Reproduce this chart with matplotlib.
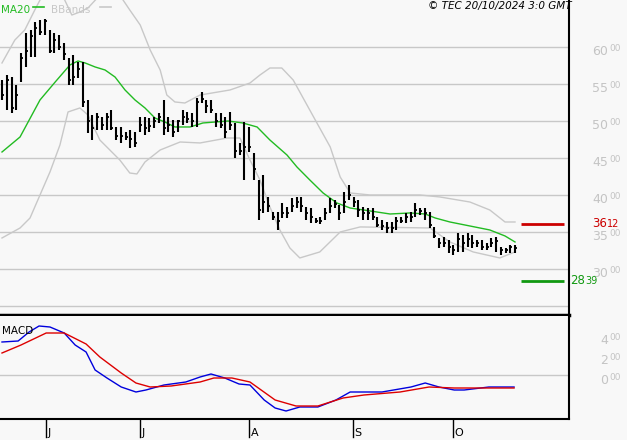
import matplotlib
matplotlib.use("Agg")
import matplotlib.pyplot as plt
import matplotlib.transforms as mtransforms

W, H = 627, 440
highs = [55.54,56.21,55.94,54.86,59.19,61.89,62.30,63.38,63.65,63.78,62.30,61.89,61.62,60.54,58.51,58.92,57.97,57.97,52.84,50.81,
         51.08,50.54,51.08,51.48,49.19,49.19,48.51,48.78,48.51,50.54,50.54,50.40,50.54,51.08,52.84,50.54,50.13,50.13,51.48,51.22,
         51.08,53.11,53.92,52.84,52.84,51.08,51.08,50.54,51.22,49.73,47.03,49.86,49.19,45.67,42.03,42.70,39.73,37.70,37.70,38.92,
         38.38,39.59,39.73,39.73,38.38,38.24,36.89,37.03,38.24,39.59,39.32,38.65,40.40,41.35,39.73,39.32,38.38,38.24,38.24,37.03,
         36.62,36.35,36.35,37.03,37.03,37.57,37.70,38.92,38.24,38.24,37.70,35.67,34.19,34.32,33.92,33.24,34.86,34.59,34.86,34.59,
         33.92,33.92,33.51,34.19,34.32,32.97,32.84,33.24,33.24]
lows = [52.84,51.48,51.08,51.48,55.27,57.30,58.65,58.65,61.62,61.62,59.19,59.19,59.59,58.24,54.86,54.86,55.81,51.89,48.38,47.43,
        48.78,48.78,48.78,48.78,47.43,47.03,47.43,46.35,46.49,48.51,48.11,48.51,49.05,49.73,48.11,48.51,47.84,48.51,49.46,49.73,
        49.19,49.19,52.43,51.08,51.08,49.19,49.05,47.70,48.78,45.00,45.40,42.03,45.81,42.03,36.62,37.57,37.70,36.62,35.27,36.89,
        36.89,37.70,38.24,37.70,36.62,36.22,36.22,36.08,36.62,37.57,38.24,36.62,37.57,39.32,38.38,37.03,36.62,36.62,36.62,35.67,
        35.27,34.86,34.86,35.27,36.22,36.22,36.35,37.03,37.30,36.62,35.54,34.19,32.84,32.97,32.16,31.89,32.30,32.30,32.97,32.84,
        32.97,32.57,32.57,32.97,32.30,31.89,32.16,32.16,32.16]
closes = [53.5,55.5,51.8,53.5,58.5,59.5,61.5,62.5,62.0,63.5,59.5,61.0,60.0,59.0,55.5,56.0,57.0,52.5,50.0,49.0,
          50.5,49.5,50.5,49.0,48.0,48.0,47.8,47.5,47.0,49.5,49.0,49.3,50.0,50.5,49.0,49.5,48.5,50.0,50.5,50.3,
          50.0,52.5,53.0,52.0,51.5,50.0,49.5,48.5,49.5,46.0,46.0,46.5,46.5,43.5,38.0,39.0,38.5,37.0,36.5,37.5,
          37.5,38.5,39.0,38.5,37.5,37.0,36.5,36.5,37.5,38.5,38.8,37.5,39.0,40.0,39.0,38.0,37.5,37.5,37.0,36.0,
          35.8,35.5,35.5,36.5,36.5,37.0,37.0,38.0,37.8,37.5,36.0,34.5,33.5,33.5,33.0,32.5,34.0,33.5,34.0,33.5,
          33.5,33.0,33.0,33.5,33.8,32.5,32.5,33.0,32.8]

ma_idx = [0,3.8,8.0,11.2,14.3,16.0,17.5,19.6,21.7,23.8,25.9,28.0,30.1,32.2,34.3,36.4,39.6,42.3,47.6,50.7,53.7,56.4,60.0,62.1,64.8,67.6,70.5,73.3,77.5,81.7,85.9,89.1,91.2,94.3,98.5,102.7,105.9,108.0]
ma_val = [45.81,47.84,52.84,55.27,57.57,58.11,57.84,57.30,56.89,55.94,54.19,52.84,51.76,50.40,49.86,49.19,49.19,49.73,50.0,49.73,49.19,47.43,45.40,43.78,42.03,40.27,38.92,38.24,37.84,37.43,37.57,37.43,36.89,36.35,35.81,35.27,34.46,33.65]
up_idx = [0,2.7,4.8,6.9,9.1,12.2,14.7,16.4,18.1,20.6,24.8,26.9,29.1,31.2,33.3,34.7,36.4,38.5,41.7,48.0,52.2,54.3,56.4,58.9,61.3,66.3,69.1,71.2,73.3,77.5,88.0,92.2,98.5,102.7,105.9,108.0]
up_val = [57.84,60.94,62.30,65.0,67.7,67.7,64.32,64.73,65.27,67.0,67.0,65.0,62.97,59.59,56.89,53.51,52.57,52.43,53.51,54.19,55.13,56.21,57.16,57.16,55.54,49.73,46.49,42.43,40.27,40.0,40.0,39.73,39.05,37.97,36.35,36.35]
lo_idx = [0,3.8,5.9,8.0,10.1,12.2,13.9,16.4,18.1,20.6,22.7,24.8,26.9,28.4,30.1,33.3,37.5,41.7,47.4,50.1,52.2,54.3,56.4,58.5,60.6,62.7,66.9,71.2,75.4,90.1,94.3,99.2,104.8,108.0]
lo_val = [34.19,35.54,36.89,40.0,43.11,46.76,51.22,51.76,50.81,47.43,46.08,44.73,42.97,42.84,44.46,46.08,47.16,47.03,47.70,47.70,44.73,42.03,38.38,35.27,32.84,31.49,32.30,35.0,35.68,35.54,33.65,32.30,31.49,32.30]

macd_idx = [0,3.4,5.7,7.8,10.1,13.1,15.4,17.7,19.6,22.1,25.1,28.2,30.3,34.1,38.7,41.7,44.0,46.9,49.9,52.2,55.2,57.5,59.8,62.7,66.5,70.3,73.3,80.0,86.1,89.1,92.0,95.2,97.3,102.5,107.8]
macd_val = [3.3,3.4,4.3,4.9,4.8,4.2,3.0,2.3,0.5,-0.3,-1.2,-1.7,-1.5,-1.0,-0.7,-0.2,0.1,-0.3,-0.9,-1.0,-2.5,-3.3,-3.6,-3.2,-3.2,-2.5,-1.7,-1.7,-1.2,-0.8,-1.2,-1.5,-1.5,-1.2,-1.2]
sig_idx = [0,4.0,9.3,13.1,17.7,20.6,25.1,28.2,31.2,35.6,41.7,44.6,48.4,52.2,57.5,61.9,66.5,71.8,76.2,83.8,89.9,95.2,107.8]
sig_val = [2.2,3.0,4.2,4.2,3.1,1.8,0.2,-0.8,-1.2,-1.1,-0.7,-0.3,-0.3,-0.7,-2.5,-3.1,-3.1,-2.3,-2.0,-1.7,-1.2,-1.3,-1.3]

month_idx = [9.3, 29.1, 52.0, 73.9, 95.0]
month_lbl = ["J", "J", "A", "S", "O"]
grid_levels = [60, 55, 50, 45, 40, 35, 30, 25]
price_labels = [60, 55, 50, 45, 40, 35, 30]
macd_ticks = [4, 2, 0]
resist, support = 36.12, 28.39

bg = "#f8f8f8"
lblc = "#c4c4c4"
fig = plt.figure(figsize=(W/100, H/100), dpi=100, facecolor=bg)
x0 = -2/4.75
x1 = (569-2)/4.75
ax = fig.add_axes([0, 1-315/H, 569/W, 315/H], facecolor=bg)
ax2 = fig.add_axes([0, 1-419/H, 569/W, 103/H], facecolor=bg)
ax.set_xlim(x0, x1); ax2.set_xlim(x0, x1)
ax.set_ylim(23.78, 66.35); ax2.set_ylim(-4.4, 5.9)
for a in (ax, ax2):
    for s in ("left", "top"):
        a.spines[s].set_visible(False)
    a.spines["right"].set_color("black"); a.spines["right"].set_linewidth(1.5)
    a.set_xticks([]); a.set_yticks([])
ax.spines["bottom"].set_linewidth(2.5)
ax2.spines["bottom"].set_linewidth(1.5)

for p in grid_levels:
    ax.axhline(p, color="#c8c8c8", lw=1, zorder=0)
for p in price_labels:
    yy = ax.transData.transform((0, p))[1]
    fy = yy/H - 5/H
    fig.text(592/W, fy, f"{p}", color=lblc, fontsize=9, va="center", ha="left")
    fig.text(609/W, fy+3/H, "00", color=lblc, fontsize=6.5, va="center", ha="left")
ax2.axhline(0, color="#c8c8c8", lw=1, zorder=0)
for m in macd_ticks:
    yy = ax2.transData.transform((0, m))[1]
    fy = yy/H - 5/H
    fig.text(600/W, fy, f"{m}", color=lblc, fontsize=9, va="center", ha="left")
    fig.text(609/W, fy+3/H, "00", color=lblc, fontsize=6.5, va="center", ha="left")

ax.plot(up_idx, up_val, color="#c8c8c8", lw=1)
ax.plot(lo_idx, lo_val, color="#c8c8c8", lw=1)
ax.plot(ma_idx, ma_val, color="#22bb22", lw=1)
idx = list(range(len(highs)))
ax.vlines(idx, lows, highs, color="black", lw=1.5)
ax.hlines(closes, [i for i in idx], [i+0.45 for i in idx], color="black", lw=1.3)

ax.hlines(resist, 109.2, 118.3, color="#cc0000", lw=2)
ax.hlines(support, 109.2, 118.3, color="#119911", lw=2)
ry = ax.transData.transform((0, resist))[1]/H
sy = ax.transData.transform((0, support))[1]/H
fig.text(592/W, ry, "36", color="#cc0000", fontsize=8.5, va="center")
fig.text(607/W, ry, "12", color="#cc0000", fontsize=7, va="center")
fig.text(570/W, sy, "28", color="#119911", fontsize=8.5, va="center")
fig.text(585/W, sy, "39", color="#119911", fontsize=7, va="center")

ax.text(0.002, 0.985, "MA20", color="#22bb22", fontsize=7.5, transform=ax.transAxes, va="top")
ax.plot([0.058, 0.078], [0.977, 0.977], color="#22bb22", lw=1.2, transform=ax.transAxes)
ax.text(0.09, 0.985, "BBands", color="#c8c8c8", fontsize=7.5, transform=ax.transAxes, va="top")
ax.plot([0.175, 0.195], [0.977, 0.977], color="#c8c8c8", lw=1.2, transform=ax.transAxes)
fig.text(572/W, 1-1/H, "© TEC 20/10/2024 3:0 GMT", fontsize=7.5, style="italic", ha="right", va="top")

ax2.plot(macd_idx, macd_val, color="#0000dd", lw=1)
ax2.plot(sig_idx, sig_val, color="#dd0000", lw=1)
ax2.text(0.003, 0.9, "MACD", fontsize=7.5, transform=ax2.transAxes, va="top")

trans = mtransforms.blended_transform_factory(ax2.transData, fig.transFigure)
for mi, ml in zip(month_idx, month_lbl):
    ax2.plot([mi, mi], [1-420/H, 1-437/H], color="black", lw=1, transform=trans, clip_on=False)
    ax2.text(mi+0.3, 1-438/H, ml, transform=trans, fontsize=8, va="bottom", ha="left")

fig.savefig("out.png", dpi=100, facecolor=bg)
